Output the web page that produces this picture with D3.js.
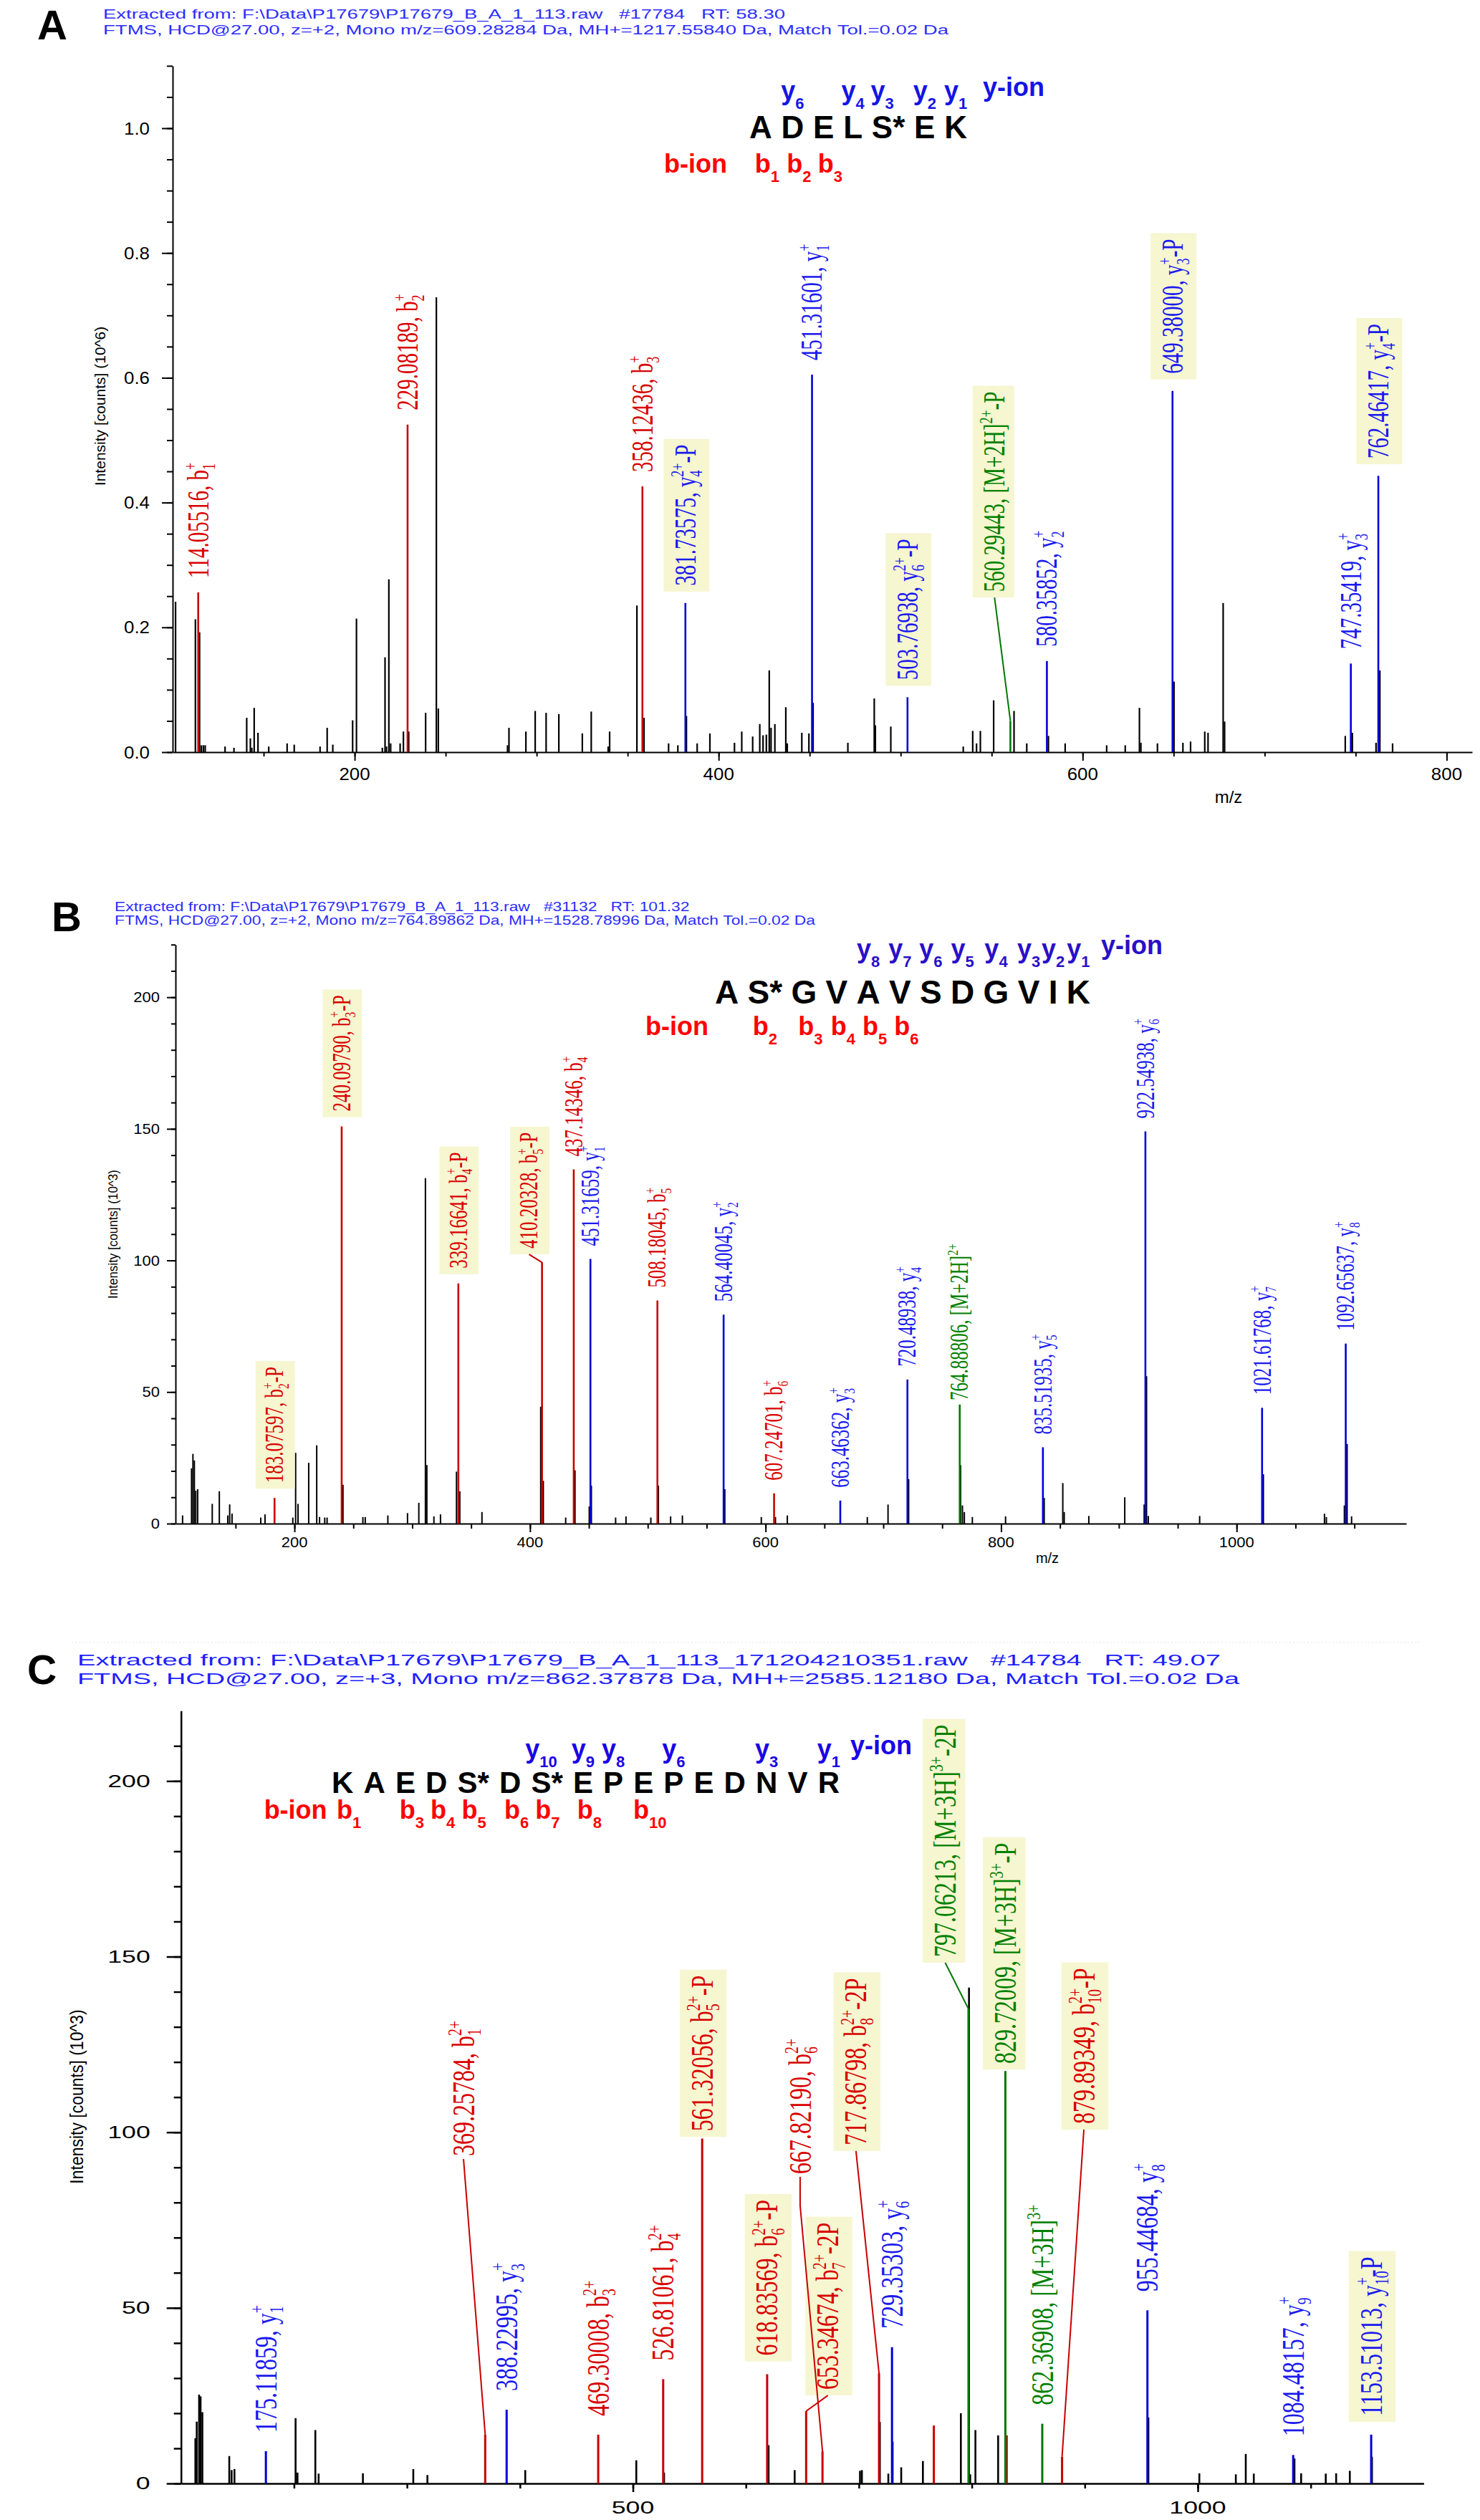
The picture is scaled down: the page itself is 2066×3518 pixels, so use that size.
<!DOCTYPE html>
<html>
<head>
<meta charset="utf-8">
<script src="https://cdn.jsdelivr.net/npm/d3@7"></script>
<style>
body { margin: 0; background: #fff; }
svg { display: block; }
</style>
</head>
<body>
<svg id="fig" width="2066" height="3518"></svg>
<script>
// ---------- panel A : ADELS*EK ----------
const headerA = ["Extracted from: F:\\Data\\P17679\\P17679_B_A_1_113.raw   #17784   RT: 58.30",
  "FTMS, HCD@27.00, z=+2, Mono m/z=609.28284 Da, MH+=1217.55840 Da, Match Tol.=0.02 Da"];
const seqA = ["A", "D", "E", "L", "S*", "E", "K"];
const bIonsA = [1, 2, 3];
const yIonsA = [6, 4, 3, 2, 1];
const xTicksA = [200, 400, 600, 800];
const yTicksA = [0, 0.2, 0.4, 0.6, 0.8, 1.0];
// unassigned peaks [m/z, intensity (10^6)]
const peaksA = [[101.6,.241],[112.5,.213],[114.8,.192],[115.8,.011],[116.9,.011],[117.9,.011],[128.8,.009],[133.7,.007],
  [140.7,.055],[142.7,.022],[143.5,.007],[144.8,.071],[146.9,.031],[152.8,.009],[162.9,.014],[166.8,.012],[181,.009],
  [184.9,.039],[188,.012],[198.9,.051],[201,.214],[215.2,.007],[216.7,.152],[217.5,.009],[218.8,.277],[219.8,.014],
  [225,.014],[226.8,.033],[229.7,.033],[239,.063],[244.9,.729],[246,.07],[284,.011],[284.8,.039],[294.1,.033],
  [299.2,.066],[305.2,.063],[312.2,.061],[325.1,.03],[330,.065],[339.3,.009],[340.1,.033],[355.1,.235],[359,.055],
  [372.5,.014],[377.6,.011],[382.3,.058],[388.2,.014],[395.2,.03],[408.7,.015],[412.7,.033],[418.7,.025],[422.6,.045],
  [424.4,.027],[426.2,.028],[427.8,.131],[428.8,.039],[430.9,.045],[436.9,.072],[437.7,.014],[445.7,.031],[449.6,.03],
  [451.9,.079],[471,.015],[485.5,.086],[486.1,.043],[494.6,.041],[534.4,.009],[539.6,.034],[541.7,.014],[543.8,.034],
  [551.1,.083],[562.3,.066],[569.3,.014],[581.2,.026],[590.4,.014],[613.2,.011],[623.4,.011],[631.2,.071],[632,.015],
  [641.1,.014],[650.2,.113],[655.1,.015],[659.3,.017],[667.1,.033],[668.9,.031],[677.2,.239],[678,.049],[744.3,.026],
  [748.2,.031],[761.2,.015],[763.3,.131],[770.3,.014]];
// assigned ions [m/z, intensity, series, number, charge, loss]
const ionsA = [
  [114.05516, .256, "b", 1, "+", ""],
  [229.08189, .525, "b", 2, "+", ""],
  [358.12436, .426, "b", 3, "+", ""],
  [381.73575, .239, "y", 4, "2+", "-P"],
  [451.31601, .605, "y", 1, "+", ""],
  [503.76938, .088, "y", 6, "2+", "-P"],
  [560.29443, .05, "M", "2H", "2+", "-P"],
  [580.35852, .146, "y", 2, "+", ""],
  [649.38000, .579, "y", 3, "+", "-P"],
  [747.35419, .142, "y", 3, "+", ""],
  [762.46417, .443, "y", 4, "+", "-P"]];

// ---------- panel B : AS*GVAVSDGVIK ----------
const headerB = ["Extracted from: F:\\Data\\P17679\\P17679_B_A_1_113.raw   #31132   RT: 101.32",
  "FTMS, HCD@27.00, z=+2, Mono m/z=764.89862 Da, MH+=1528.78996 Da, Match Tol.=0.02 Da"];
const seqB = ["A", "S*", "G", "V", "A", "V", "S", "D", "G", "V", "I", "K"];
const bIonsB = [2, 3, 4, 5, 6];
const yIonsB = [8, 7, 6, 5, 4, 3, 2, 1];
const xTicksB = [200, 400, 600, 800, 1000];
const yTicksB = [0, 50, 100, 150, 200];
const peaksB = [[105,3.1],[112.6,21],[113.8,26.5],[115,24],[116.2,12.5],[117.8,13.1],[130.2,7.5],[136.2,12.3],[143.4,3.1],
  [145,7.3],[147,3.8],[171.4,2.3],[175,3.5],[198.6,2.3],[201,26.9],[203,7.5],[212.1,23.1],[218.9,29.75],[221.3,2.5],
  [225.7,2.3],[227.7,2.3],[241.2,14.75],[258.1,2.5],[260.1,2.5],[279.3,3.1],[296,4],[305.6,7.9],[311.2,131.25],
  [312.4,22.25],[318.4,2.75],[324,3.5],[337.6,19.75],[340.4,12.25],[359.2,4.4],[409.1,44.4],[411.3,16.25],[430.3,2.3],
  [438.2,20.25],[450.3,6.5],[452.1,14.4],[472.7,2.3],[481.5,2.75],[502.6,2.3],[509,14.4],[519.4,2.75],[529.4,3.1],
  [565.4,13.1],[596.4,2.5],[608.4,2.5],[618.5,3.1],[686.4,2.5],[704,7.25],[721.5,16.9],[765.6,22.25],[767.2,6.9],
  [768.8,4.4],[775.6,2.5],[803.8,2.75],[836.6,9.75],[852.4,15.4],[853.6,4.4],[874.5,2.9],[905,10],[921.5,7.25],
  [923.5,56],[925,2.9],[968.6,2.9],[1022.7,18.75],[1074.6,3.75],[1076.2,2.5],[1091.5,6.9],[1093.8,30.25],[1097.6,2.75]];
const ionsB = [
  [183.07597, 9.75, "b", 2, "+", "-P"],
  [240.09790, 150.9, "b", 3, "+", "-P"],
  [339.16641, 91.25, "b", 4, "+", "-P"],
  [410.20328, 99.25, "b", 5, "+", "-P"],
  [437.14346, 134.6, "b", 4, "+", ""],
  [451.31659, 100.6, "y", 1, "+", ""],
  [508.18045, 84.75, "b", 5, "+", ""],
  [564.40045, 79.4, "y", 2, "+", ""],
  [607.24701, 11.5, "b", 6, "+", ""],
  [663.46362, 8.75, "y", 3, "+", ""],
  [720.48938, 54.75, "y", 4, "+", ""],
  [764.88806, 45.25, "M", "2H", "2+", ""],
  [835.51935, 29, "y", 5, "+", ""],
  [922.54938, 149, "y", 6, "+", ""],
  [1021.61768, 44, "y", 7, "+", ""],
  [1092.65637, 68.4, "y", 8, "+", ""]];

// ---------- panel C : KAEDS*DS*EPEPEDNVR ----------
const headerC = ["Extracted from: F:\\Data\\P17679\\P17679_B_A_1_113_171204210351.raw   #14784   RT: 49.07",
  "FTMS, HCD@27.00, z=+3, Mono m/z=862.37878 Da, MH+=2585.12180 Da, Match Tol.=0.02 Da"];
const seqC = ["K", "A", "E", "D", "S*", "D", "S*", "E", "P", "E", "P", "E", "D", "N", "V", "R"];
const bIonsC = [1, 3, 4, 5, 6, 7, 8, 10];
const yIonsC = [10, 9, 8, 6, 3, 1];
const xTicksC = [500, 1000];
const yTicksC = [0, 50, 100, 150, 200];
const peaksC = [[112.7,12.9],[113.9,17.6],[116,25.3],[117.3,24.8],[118.9,20.3],[142.7,7.8],[144.8,3.8],[147.3,4.1],
  [201.4,18.6],[203.1,3.1],[218.9,15.2],[221.8,2.8],[261,2.9],[305.6,4.1],[318.1,2.4],[404.7,3.8],[503,6.6],[527.6,3.1],
  [620.1,10.9],[643.2,3.8],[701,3.6],[702.7,3.8],[718.6,17.5],[726.1,2.8],[729.9,11.9],[737.5,4.6],[756.7,6.4],
  [790.3,20],[797.5,141.2],[798.6,2.6],[803.2,15.2],[823.3,13.7],[956.3,18.8],[1001.4,2.9],[1033.7,2.6],[1042.5,8.4],
  [1049.6,2.8],[1085.6,7.1],[1091.5,2.9],[1113.3,2.8],[1122.5,2.9],[1134.6,3.6],[1154.2,7.6]];
// matched b-type peaks without a label
const extraC = [[766.4, 16.5], [830.9, 13.7]];
const ionsC = [
  [175.11859, 9.2, "y", 1, "+", ""],
  [369.25784, 13.9, "b", 1, "2+", ""],
  [388.22995, 21, "y", 3, "+", ""],
  [469.30008, 13.9, "b", 3, "2+", ""],
  [526.81061, 29.7, "b", 4, "2+", ""],
  [561.32056, 98.2, "b", 5, "2+", "-P"],
  [618.83569, 31.1, "b", 6, "2+", "-P"],
  [653.34674, 20.6, "b", 7, "2+", "-2P"],
  [667.82190, 9.2, "b", 6, "2+", ""],
  [717.86798, 31.4, "b", 8, "2+", "-2P"],
  [729.35303, 38.8, "y", 6, "+", ""],
  [797.06213, 135.1, "M", "3H", "3+", "-2P"],
  [829.72009, 117.4, "M", "3H", "3+", "-P"],
  [862.36908, 17, "M", "3H", "3+", ""],
  [879.89349, 7.6, "b", 10, "2+", "-P"],
  [955.44684, 49.3, "y", 8, "+", ""],
  [1084.48157, 8.1, "y", 9, "+", ""],
  [1153.51013, 13.9, "y", 10, "+", "-P"]];

// label shifts: m/z -> [m/z offset, intensity of label foot, (optional) kink length px]
const movesA = {560.29443: [-8.7, 0.257]};
const movesB = {410.20328: [-11, 104.5], 764.88806: [0, 46.8]};
const movesC = {369.25784: [-19.2, 93.2], 561.32056: [0, 100.3], 653.34674: [19.2, 26.7], 667.8219: [-19.8, 88.1, 40],
  717.86798: [-20.4, 96.3], 797.06213: [-20.6, 149.9], 829.72009: [0, 119.5], 879.89349: [19.3, 102.4]};

const SANS = "'Liberation Sans', Arial, sans-serif";
const SERIF = "'Liberation Serif', 'Times New Roman', serif";
const peakColor = {b: "#c80000", y: "#0000d8", M: "#007800", k: "#000"};
const textColor = {b: "#d80000", y: "#1a1aee", M: "#008000"};
const HL = "#f6f6d0";

const panels = [
  { key: "A", header: headerA, seq: seqA, bIons: bIonsA, yIons: yIonsA, peaks: peaksA, extra: [], ions: ionsA, moves: movesA,
    xDomain: [100, 814], xRange: [241, 2055], yDomain: [0, 1.1], yRange: [1050, 91.9],
    xMinor: d3.range(150, 801, 50), xMajor: xTicksA, yMinor: d3.range(0, 1.101, 0.05), yMajor: yTicksA,
    yFmt: d3.format(".1f"), yTitle: "Intensity [counts] (10^6)",
    letter: [52, 55, 58], head: {x: 144, y: [26, 47.5], fs: 17.5, end: [1096, 1324], color: "#2d2dff"},
    tk: {fs: 24, sx: 1.08, xDy: 39, yDx: 32, yMaj: 15, yMin: 8, xMaj: 12, xMin: 6, w: 2},
    title: {x: 140, y: 567, fs: 21, sx: 1}, mz: {x: 1715, y: 1121, fs: 24},
    pw: [2.2, 2.6], lab: {fs: 29, sx: 1.45, gap: 20, boxGap: 4},
    sq: {x: 1046, y: 193, fs: 44, width: 304, yDy: -54, bDy: 48, bEnd: 1015, yGap: 22, yColor: "#1414e6"} },
  { key: "B", header: headerB, seq: seqB, bIons: bIonsB, yIons: yIonsB, peaks: peaksB, extra: [], ions: ionsB, moves: movesB,
    xDomain: [99, 1144], xRange: [245, 1963], yDomain: [0, 220], yRange: [2127, 1318.7],
    xMinor: d3.range(150, 1101, 50), xMajor: xTicksB, yMinor: d3.range(0, 221, 10), yMajor: yTicksB,
    yFmt: d3.format("d"), yTitle: "Intensity [counts] (10^3)",
    letter: [72, 1300, 58], head: {x: 160, y: [1272, 1291], fs: 19, end: [962.5, 1138], color: "#2d2dff"},
    tk: {fs: 20, sx: 1.1, xDy: 33, yDx: 22, yMaj: 12, yMin: 6, xMaj: 12, xMin: 7, w: 2},
    title: {x: 157, y: 1723, fs: 17, sx: 1.1}, mz: {x: 1462, y: 2182, fs: 20},
    pw: [2, 2.6], lab: {fs: 25, sx: 1.42, gap: 18, boxGap: 3},
    sq: {x: 998, y: 1401, fs: 46, width: 524, yDy: -64, bDy: 44, bEnd: 989, yGap: 15, yColor: "#2a0fc8"} },
  { key: "C", header: headerC, seq: seqC, bIons: bIonsC, yIons: yIonsC, peaks: peaksC, extra: extraC, ions: ionsC, moves: movesC,
    xDomain: [100, 1200], xRange: [252.7, 1987.4], yDomain: [0, 220], yRange: [3467, 2388.3],
    xMinor: d3.range(200, 1101, 100), xMajor: xTicksC, yMinor: d3.range(0, 211, 10), yMajor: yTicksC,
    yFmt: d3.format("d"), yTitle: "Intensity [counts] (10^3)",
    letter: [38, 2351, 57], head: {x: 108, y: [2324.6, 2351.4], fs: 22, end: [1704, 1730], color: "#1e1eff"},
    tk: {fs: 23, sx: 1.55, xDy: 42, yDx: 43, yMaj: 20, yMin: 10, xMaj: 12, xMin: 7, w: 2.5},
    title: {x: 107, y: 2927, fs: 23, sx: 1.15}, mz: null,
    pw: [2.6, 3], lab: {fs: 32, sx: 1.38, gap: 26, boxGap: 0},
    sq: {x: 463, y: 2503, fs: 42, width: 709, yDy: -49, bDy: 36, bEnd: 456.6, yGap: 15, yColor: "#1a00e6"} }
];

const svg = d3.select("#fig");

function measure(str, fs, bold) {
  const t = svg.append("text").attr("font-family", SANS).attr("font-size", fs)
    .attr("font-weight", bold ? "bold" : "normal").text(str);
  const w = t.node().getComputedTextLength();
  t.remove();
  return w;
}

function peakLabel(g, d, P, x, y) {
  const [mz, it, ion, num, charge, loss] = d;
  const mv = P.moves[mz];
  const boxed = loss !== "";
  const lx = x(mz + (mv ? mv[0] : 0));
  const ly = mv ? y(mv[1]) : y(it) - P.lab.gap - (boxed ? P.lab.boxGap : 0);
  const fs = P.lab.fs, sfs = fs * 0.62;
  const lg = g.append("g").attr("transform", `translate(${lx},${ly}) scale(${P.lab.sx},1) rotate(-90)`);
  const t = lg.append("text").attr("font-family", SERIF).attr("font-size", fs)
    .attr("fill", textColor[ion]).attr("y", fs * 0.33);
  t.append("tspan").text(mz.toFixed(5) + ", " + (ion === "M" ? "[M+" + num + "]" : ion));
  let subW = 0;
  if (ion !== "M") {
    t.append("tspan").attr("font-size", sfs).attr("dy", fs * 0.22).text(num);
    subW = String(num).length * sfs * 0.5;
  }
  t.append("tspan").attr("font-size", sfs).attr("dx", -subW)
    .attr("dy", ion !== "M" ? -fs * 0.62 : -fs * 0.4).text(charge);
  t.append("tspan").attr("dy", fs * 0.4).text(loss);
  if (boxed) {
    const bb = t.node().getBBox();
    lg.insert("rect", "text").attr("x", bb.x - 8).attr("y", bb.y - 3)
      .attr("width", bb.width + 16).attr("height", bb.height + 6).attr("fill", HL);
  }
  if (mv && mv[0] !== 0) {
    const y0 = ly + (boxed ? 8 : 4);
    const pts = [[lx, y0]];
    if (mv[2]) pts.push([lx, y0 + mv[2]]);
    pts.push([x(mz), y(it)]);
    g.append("path").attr("d", d3.line()(pts)).attr("fill", "none")
      .attr("stroke", peakColor[ion]).attr("stroke-width", 2);
  }
}

function ionTag(g, xc, yb, letter, num, color) {
  const t = g.append("text").attr("x", xc).attr("y", yb).attr("text-anchor", "middle")
    .attr("font-family", SANS).attr("font-weight", "bold").attr("font-size", 36).attr("fill", color);
  t.append("tspan").text(letter);
  t.append("tspan").attr("font-size", 22).attr("dy", 13).text(num);
}

function drawSequence(g, P) {
  const S = P.sq;
  const widths = P.seq.map(r => measure(r, S.fs, true));
  const gap = (S.width - d3.sum(widths)) / (P.seq.length - 1);
  const lefts = [];
  let cx = S.x;
  widths.forEach(w => { lefts.push(cx); cx += w + gap; });
  const seqEnd = cx - gap;
  g.selectAll(null).data(P.seq).join("text")
    .attr("x", (d, i) => lefts[i]).attr("y", S.y)
    .attr("font-family", SANS).attr("font-weight", "bold").attr("font-size", S.fs).attr("fill", "#000")
    .text(d => d);
  const centres = P.seq.map((r, i) => lefts[i] + measure(r[0], S.fs, true) / 2);
  P.yIons.forEach(n => ionTag(g, centres[P.seq.length - n], S.y + S.yDy, "y", n, S.yColor));
  P.bIons.forEach(n => ionTag(g, centres[n - 1] + 9, S.y + S.bDy, "b", n, "#ff0000"));
  g.append("text").attr("x", seqEnd + S.yGap).attr("y", S.y + S.yDy - 5)
    .attr("font-family", SANS).attr("font-weight", "bold").attr("font-size", 36).attr("fill", S.yColor).text("y-ion");
  g.append("text").attr("x", S.bEnd).attr("y", S.y + S.bDy).attr("text-anchor", "end")
    .attr("font-family", SANS).attr("font-weight", "bold").attr("font-size", 36).attr("fill", "#ff0000").text("b-ion");
}

panels.forEach(P => {
  const g = svg.append("g").attr("class", "panel-" + P.key);
  const x = d3.scaleLinear().domain(P.xDomain).range(P.xRange);
  const y = d3.scaleLinear().domain(P.yDomain).range(P.yRange);
  const T = P.tk;

  // panel letter and header
  g.append("text").attr("x", P.letter[0]).attr("y", P.letter[1]).attr("font-family", SANS)
    .attr("font-weight", "bold").attr("font-size", P.letter[2]).text(P.key);
  P.header.forEach((s, i) => {
    g.append("text").attr("x", P.head.x).attr("y", P.head.y[i]).attr("font-family", SANS)
      .attr("font-size", P.head.fs).attr("fill", P.head.color)
      .attr("textLength", P.head.end[i] - P.head.x).attr("lengthAdjust", "spacingAndGlyphs")
      .text(s.replace(/ /g, "\u00a0"));
  });
  if (P.key === "C") {
    g.append("line").attr("x1", 100).attr("x2", 1985).attr("y1", 2293).attr("y2", 2293)
      .attr("stroke", "#e4e4e4").attr("stroke-dasharray", "2,3");
  }

  // axes
  const ax = g.append("g").attr("transform", `translate(0,${y(0)})`);
  ax.call(d3.axisBottom(x).tickValues(P.xMinor).tickSize(T.xMin).tickFormat("").tickSizeOuter(0));
  ax.append("g").call(d3.axisBottom(x).tickValues(P.xMajor).tickSize(T.xMaj).tickFormat("").tickSizeOuter(0))
    .select(".domain").remove();
  const ay = g.append("g").attr("transform", `translate(${x.range()[0]},0)`);
  ay.call(d3.axisLeft(y).tickValues(P.yMinor).tickSize(T.yMin).tickFormat("").tickSizeOuter(0));
  ay.append("g").call(d3.axisLeft(y).tickValues(P.yMajor).tickSize(T.yMaj).tickFormat("").tickSizeOuter(0))
    .select(".domain").remove();
  g.selectAll(".domain, .tick line").attr("stroke", "#000").attr("stroke-width", T.w);

  // tick labels
  g.selectAll(null).data(P.xMajor).join("text")
    .attr("transform", d => `translate(${x(d)},${y(0) + T.xDy}) scale(${T.sx},1)`)
    .attr("text-anchor", "middle").attr("font-family", SANS).attr("font-size", T.fs).text(d => d);
  g.selectAll(null).data(P.yMajor).join("text")
    .attr("transform", d => `translate(${x.range()[0] - T.yDx},${y(d) + T.fs * 0.36}) scale(${T.sx},1)`)
    .attr("text-anchor", "end").attr("font-family", SANS).attr("font-size", T.fs).text(P.yFmt);

  // axis titles
  g.append("text").attr("transform", `translate(${P.title.x},${P.title.y}) scale(${P.title.sx},1) rotate(-90)`)
    .attr("text-anchor", "middle").attr("dy", "0.35em").attr("font-family", SANS)
    .attr("font-size", P.title.fs).text(P.yTitle);
  if (P.mz) {
    g.append("text").attr("x", P.mz.x).attr("y", P.mz.y).attr("text-anchor", "middle")
      .attr("font-family", SANS).attr("font-size", P.mz.fs).text("m/z");
  }

  // spectrum
  g.append("g").selectAll("line").data(P.peaks).join("line")
    .attr("x1", d => x(d[0])).attr("x2", d => x(d[0])).attr("y1", y(0)).attr("y2", d => y(d[1]))
    .attr("stroke", "#000").attr("stroke-width", P.pw[0]);
  g.append("g").selectAll("line").data(P.extra).join("line")
    .attr("x1", d => x(d[0])).attr("x2", d => x(d[0])).attr("y1", y(0)).attr("y2", d => y(d[1]))
    .attr("stroke", peakColor.b).attr("stroke-width", P.pw[1]);
  g.append("g").selectAll("line").data(P.ions).join("line")
    .attr("x1", d => x(d[0])).attr("x2", d => x(d[0])).attr("y1", y(0)).attr("y2", d => y(d[1]))
    .attr("stroke", d => peakColor[d[2]]).attr("stroke-width", P.pw[1]);

  const lab = g.append("g");
  P.ions.forEach(d => peakLabel(lab, d, P, x, y));

  drawSequence(g, P);
});
</script>
</body>
</html>
